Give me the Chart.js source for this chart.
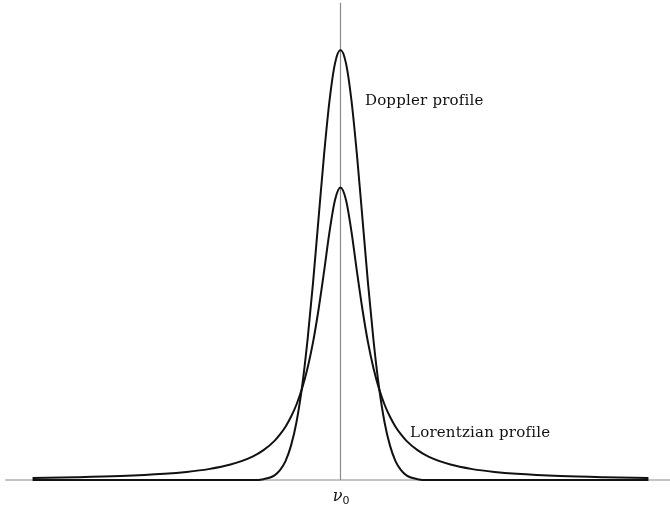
<!DOCTYPE html>
<html>
<head>
<meta charset="utf-8">
<script src="https://cdn.jsdelivr.net/npm/chart.js@4"></script>
<style>
  body { margin: 0; background: #fff; }
  canvas { display: block; }
</style>
</head>
<body>
<canvas id="lineChart" width="670" height="505"></canvas>
<script>
// frequency offset from line centre (in Doppler widths)
var offsets = [-14, -12, -10, -8, -7, -6, -5, -4, -3.5, -3, -2.75, -2.5, -2.25, -2, -1.75, -1.5, -1.25, -1, -0.75, -0.5, -0.25,
  0, 0.25, 0.5, 0.75, 1, 1.25, 1.5, 1.75, 2, 2.25, 2.5, 2.75, 3, 3.5, 4, 5, 6, 7, 8, 10, 12, 14];

var doppler = [0, 0, 0, 0, 0, 0, 0, 0, 0.002, 0.011, 0.023, 0.044, 0.080, 0.135, 0.216, 0.325, 0.458, 0.607, 0.755, 0.882, 0.969,
  1.0, 0.969, 0.882, 0.755, 0.607, 0.458, 0.325, 0.216, 0.135, 0.080, 0.044, 0.023, 0.011, 0.002, 0, 0, 0, 0, 0, 0, 0, 0];

var lorentzian = [0.0048, 0.0065, 0.0093, 0.0145, 0.0188, 0.0253, 0.0359, 0.0544, 0.0694, 0.0911, 0.106, 0.1239, 0.147, 0.1756, 0.2126, 0.260, 0.320, 0.396, 0.484, 0.577, 0.651,
  0.68, 0.651, 0.577, 0.484, 0.396, 0.320, 0.260, 0.2126, 0.1756, 0.147, 0.1239, 0.106, 0.0911, 0.0694, 0.0544, 0.0359, 0.0253, 0.0188, 0.0145, 0.0093, 0.0065, 0.0048];

var axisX = [-15.25, 14.98];
var axisTop = 1.11;

function pts(xs, ys) {
  return xs.map(function (x, i) { return { x: x, y: ys[i] }; });
}

// text labels drawn in data coordinates
var labelPlugin = {
  id: 'labels',
  afterDatasetsDraw: function (chart) {
    var ctx = chart.ctx;
    var xs = chart.scales.x, ys = chart.scales.y;
    ctx.save();
    ctx.fillStyle = '#111';
    ctx.textBaseline = 'alphabetic';
    ctx.font = '15px "DejaVu Serif"';
    ctx.letterSpacing = '0.2px';
    ctx.fillText('Doppler profile', xs.getPixelForValue(1.11), ys.getPixelForValue(0.872));
    ctx.fillText('Lorentzian profile', xs.getPixelForValue(3.16), ys.getPixelForValue(0.1));
    ctx.letterSpacing = '0px';
    var cx = xs.getPixelForValue(0);
    var cy = ys.getPixelForValue(0) + 21;
    ctx.font = 'italic 16px "DejaVu Serif"';
    ctx.textAlign = 'right';
    ctx.fillText('\u03bd', cx + 2, cy);
    ctx.font = '11px "DejaVu Sans"';
    ctx.textAlign = 'left';
    ctx.fillText('0', cx + 2, cy + 3);
    ctx.restore();
  }
};

var ctx = document.getElementById('lineChart').getContext('2d');
var myChart = new Chart(ctx, {
  type: 'line',
  data: {
    datasets: [{
      label: 'axis',
      data: [{ x: axisX[0], y: 0 }, { x: axisX[1], y: 0 }],
      borderColor: '#8a8a8a',
      borderWidth: 1.2,
      pointRadius: 0,
      order: 3
    }, {
      label: 'centre',
      data: [{ x: 0, y: 0 }, { x: 0, y: axisTop }],
      borderColor: '#8a8a8a',
      borderWidth: 1.2,
      pointRadius: 0,
      order: 3
    }, {
      label: 'Doppler profile',
      data: pts(offsets, doppler),
      borderColor: '#111',
      borderWidth: 2,
      pointRadius: 0,
      cubicInterpolationMode: 'monotone',
      order: 1
    }, {
      label: 'Lorentzian profile',
      data: pts(offsets, lorentzian),
      borderColor: '#111',
      borderWidth: 2,
      pointRadius: 0,
      cubicInterpolationMode: 'monotone',
      order: 2
    }]
  },
  options: {
    responsive: false,
    animation: false,
    layout: { padding: 0 },
    plugins: { legend: { display: false }, tooltip: { enabled: false } },
    elements: { line: { fill: false } },
    scales: {
      x: { type: 'linear', min: -15.48, max: 14.98, display: false },
      y: { min: -0.0581, max: 1.1163, display: false }
    }
  },
  plugins: [labelPlugin]
});
</script>
</body>
</html>
